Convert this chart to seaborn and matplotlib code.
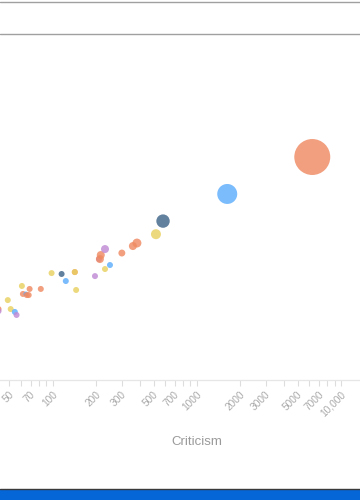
import matplotlib
matplotlib.use("Agg")
import matplotlib.pyplot as plt
from matplotlib.lines import Line2D
from matplotlib.patches import Rectangle
from matplotlib.ticker import FixedLocator, FixedFormatter, LogLocator, NullFormatter
from matplotlib.transforms import ScaledTranslation
import seaborn as sns
import pandas as pd

# ---- data ----
criticism = [42, 42, 48.7, 51, 54.5, 56, 61, 62, 65, 66, 68, 69, 82.5, 98, 115, 123,
             142, 142, 145, 196, 209, 212, 215, 230, 230, 249, 301, 359, 383, 519, 581,
             1620, 6300]
praise = [31.1, 30.1, 35.9, 31.1, 29.7, 28.3, 45, 39.6, 39.6, 38.9, 38.9, 42.9, 42.9,
          55.3, 54.5, 48.7, 56.2, 56.2, 42.2, 52.7, 69.2, 69.2, 73.8, 81.2, 59, 62.9,
          76.2, 85.2, 89.4, 103, 127, 196, 354]
group = ["A", "E", "D", "D", "B", "E", "D", "A", "B", "A", "A", "A", "A",
         "D", "C", "B", "A", "D", "D", "E", "E", "A", "A", "E", "D", "B",
         "A", "A", "A", "D", "C", "B", "A"]
volume = [9, 9, 9, 9, 9, 9, 9, 9, 6, 9, 9, 9, 9,
          9, 9, 9, 9, 9, 9, 9, 9, 16, 16, 16, 9, 9,
          12, 16, 20, 25, 45, 100, 324]

tick_values = [50, 70, 100, 200, 300, 500, 700, 1000, 2000, 3000, 5000, 7000, 10000]
tick_labels = ["50", "70", "100", "200", "300", "500", "700", "1000", "2000", "3000",
               "5000", "7000", "10,000"]

palette = {"A": "#ef8a62", "B": "#5eadfc", "C": "#40658a", "D": "#e8d160", "E": "#bf8ad4"}
x_label = "Criticism"

df = pd.DataFrame({"Criticism": criticism, "Praise": praise,
                   "Group": group, "Volume": volume})

sns.set_theme(style="white")
plt.rcParams["font.family"] = ["Liberation Sans", "DejaVu Sans"]

fig = plt.figure(figsize=(3.6, 5.0), dpi=100)
ax = fig.add_axes([0.0, 0.24, 1.0, 0.68])

sns.scatterplot(data=df, x="Criticism", y="Praise", hue="Group", size="Volume",
                palette=palette, sizes=(2.07 * 6, 2.07 * 324), size_norm=(6, 324),
                alpha=0.82, linewidth=0, legend=False, ax=ax, clip_on=True)

ax.set_xscale("log")
ax.set_yscale("log")
ax.set_xlim(43, 13500)
ax.set_ylim(10, 2300)

ax.xaxis.set_major_locator(FixedLocator(tick_values))
ax.xaxis.set_major_formatter(FixedFormatter(tick_labels))
ax.xaxis.set_minor_locator(LogLocator(base=10, subs=range(1, 10)))
ax.xaxis.set_minor_formatter(NullFormatter())
ax.tick_params(axis="x", which="both", direction="out", length=4.5, width=0.8,
               color="#dddddd", labelcolor="#aaaaaa", labelsize=7.3, pad=4.5, bottom=True)
shift = ScaledTranslation(3 / 100, 0, fig.dpi_scale_trans)
for lab in ax.get_xticklabels():
    lab.set_rotation(45)
    lab.set_ha("right")
    lab.set_va("center")
    lab.set_rotation_mode("anchor")
    lab.set_transform(lab.get_transform() + shift)

ax.set_xlabel("")
ax.set_ylabel("")
ax.set_yticks([])
ax.yaxis.set_minor_locator(FixedLocator([]))
for side in ["top", "left", "right"]:
    ax.spines[side].set_visible(False)
ax.spines["bottom"].set_color("#e6e6e6")
ax.spines["bottom"].set_linewidth(0.9)

fig.text(197 / 360, 1 - 442 / 500, x_label, ha="center", va="center",
         fontsize=9.5, color="#9a9a9a")

# window frame decorations
fig.add_artist(Line2D([0, 1], [1 - 1.5 / 500, 1 - 1.5 / 500], color="#a0a0a0", lw=1.0))
fig.add_artist(Line2D([0, 1], [1 - 33.5 / 500, 1 - 33.5 / 500], color="#a0a0a0", lw=1.0))
fig.add_artist(Rectangle((0, 0), 1, 11 / 500, transform=fig.transFigure,
                         facecolor="#0566d8", edgecolor="none"))
fig.add_artist(Line2D([0, 1], [11 / 500, 11 / 500], color="#3a3a3a", lw=1.0))

fig.savefig("out.png", dpi=100)
